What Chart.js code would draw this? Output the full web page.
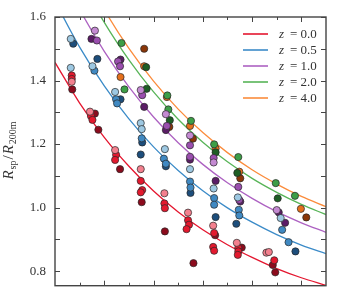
<!DOCTYPE html>
<html>
<head>
<meta charset="utf-8">
<title>Rsp / R200m</title>
<script src="https://cdn.jsdelivr.net/npm/chart.js@4.4.0/dist/chart.umd.min.js"></script>
<style>body { margin: 0; background: #fff; }</style>
</head>
<body>
<canvas id="plotCanvas" width="344" height="296"></canvas>
<script>
// ---- data ----
const redshifts = ['0.0', '0.5', '1.0', '2.0', '4.0']
const gammaGrid = [0, 0.5, 1, 1.5, 2, 2.5, 3, 3.5, 4, 4.5, 5, 5.5]
const fitZ0 = [1.457, 1.329, 1.221, 1.130, 1.052, 0.986, 0.930, 0.883, 0.843, 0.808, 0.779, 0.755]
const fitZ05 = [1.649, 1.505, 1.383, 1.279, 1.191, 1.117, 1.053, 0.999, 0.954, 0.915, 0.882, 0.855]
const fitZ1 = [1.779, 1.624, 1.492, 1.380, 1.285, 1.204, 1.136, 1.078, 1.029, 0.987, 0.952, 0.922]
const fitZ2 = [1.888, 1.723, 1.583, 1.465, 1.364, 1.278, 1.206, 1.144, 1.092, 1.048, 1.010, 0.978]
const fitZ4 = [1.935, 1.766, 1.623, 1.501, 1.398, 1.310, 1.236, 1.173, 1.119, 1.074, 1.035, 1.003]

// simulation points [gamma, Rsp/R200m], one list per redshift and mass bin
const redLight = [[0.34, 1.396], [0.71, 1.302], [1.22, 1.181], [1.74, 1.121], [2.22, 1.045], [2.70, 0.984], [3.21, 0.943], [3.69, 0.889], [4.29, 0.858], [4.34, 0.860]]
const redMid = [[0.34, 1.416], [0.34, 1.405], [0.73, 1.288], [0.76, 1.276], [1.24, 1.166], [1.22, 1.150], [1.74, 1.084], [1.77, 1.055], [1.74, 1.048], [2.22, 1.013], [2.23, 0.998], [2.70, 0.960], [2.72, 0.946], [2.67, 0.932], [3.23, 0.920], [3.21, 0.876], [3.23, 0.864], [3.72, 0.873], [3.72, 0.862], [3.71, 0.851], [4.45, 0.834]]
const redDark = [[0.35, 1.372], [0.81, 1.296], [0.88, 1.245], [1.32, 1.121], [1.76, 1.017], [2.23, 0.925], [2.81, 0.825], [3.25, 0.913], [3.79, 0.874], [4.42, 0.819], [4.47, 0.796]]
const blueLight = [[0.32, 1.531], [0.32, 1.440], [0.76, 1.445], [1.22, 1.364], [1.74, 1.266], [1.76, 1.247], [2.23, 1.184], [2.74, 1.121], [3.22, 1.060], [3.71, 1.032], [4.58, 0.967]]
const blueMid = [[0.80, 1.431], [1.24, 1.341], [1.26, 1.328], [1.76, 1.218], [2.21, 1.154], [2.25, 1.138], [2.74, 1.082], [2.75, 1.063], [3.23, 1.030], [3.23, 1.009], [3.73, 0.993], [3.74, 0.975], [4.61, 0.930], [4.74, 0.891]]
const blueDark = [[0.37, 1.516], [0.86, 1.468], [1.33, 1.341], [1.77, 1.205], [1.74, 1.167], [2.25, 1.130], [2.75, 1.046], [3.26, 0.970], [3.68, 0.949], [4.88, 0.862]]
const purpleLight = [[0.81, 1.557], [1.74, 1.370], [2.25, 1.294], [2.74, 1.227], [3.22, 1.142], [4.50, 0.992]]
const purpleMid = [[0.85, 1.526], [1.28, 1.460], [1.32, 1.445], [1.77, 1.354], [2.27, 1.257], [2.74, 1.196], [2.74, 1.160], [3.22, 1.156], [3.72, 1.065], [3.74, 1.024]]
const purpleDark = [[0.74, 1.531], [1.33, 1.466], [1.81, 1.317], [2.25, 1.244], [2.74, 1.151], [3.26, 1.084], [3.76, 1.019], [4.54, 0.985], [4.67, 0.952]]
const greenMid = [[1.35, 1.518], [1.41, 1.372], [2.28, 1.353], [2.30, 1.309], [2.76, 1.273], [3.23, 1.199], [3.72, 1.159], [4.48, 1.077], [4.87, 1.037]]
const greenDark = [[1.85, 1.442], [1.86, 1.374], [2.33, 1.275], [3.26, 1.174], [3.70, 1.109], [4.52, 1.029]]
const orangeMid = [[1.33, 1.411], [1.81, 1.445], [2.27, 1.348], [2.74, 1.257], [3.26, 1.186], [3.74, 1.113], [4.99, 0.996]]
const orangeDark = [[1.81, 1.500], [2.32, 1.254], [2.80, 1.217], [3.76, 1.092], [5.10, 0.969]]
const xTickValues = [0.5, 1, 1.5, 2, 2.5, 3, 3.5, 4, 4.5, 5]

// ---- styling ----
const lineColors = ['#e4162f', '#3b8bc8', '#ad62c2', '#58b458', '#fb8c3c']
const fits = [fitZ0, fitZ05, fitZ1, fitZ2, fitZ4]
const pointSets = [
    [redLight, '#f3808e'], [redMid, '#e3192e'], [redDark, '#8c0b1d'],
    [blueLight, '#9dc8e2'], [blueMid, '#4089c2'], [blueDark, '#1d4e7c'],
    [purpleLight, '#c48ad2'], [purpleMid, '#9a4eae'], [purpleDark, '#5b1c66'],
    [greenMid, '#3d9e47'], [greenDark, '#1d5e24'],
    [orangeMid, '#e4701c'], [orangeDark, '#8a3608'],
]
const serif = '"Liberation Serif", "DejaVu Serif", serif'
const ink = '#333'

const datasets = []
fits.forEach((fit, i) => {
    datasets.push({
        type: 'line',
        label: 'z = ' + redshifts[i],
        data: gammaGrid.map((g, k) => ({ x: g, y: fit[k] })),
        borderColor: lineColors[i],
        borderWidth: 1.3,
        pointRadius: 0,
        cubicInterpolationMode: 'monotone',
        order: 2,
    })
})
pointSets.forEach(([pts, color]) => {
    datasets.push({
        type: 'scatter',
        data: pts.map(p => ({ x: p[0], y: p[1] })),
        backgroundColor: color,
        borderColor: '#262626',
        borderWidth: 0.7,
        pointRadius: 3.6,
        order: 1,
    })
})

// inward ticks, frame, axis title and legend drawn on top
const decor = {
    id: 'decor',
    afterDraw(chart) {
        const { ctx, chartArea: a, scales } = chart
        ctx.save()
        ctx.strokeStyle = '#444'
        ctx.lineWidth = 1
        ctx.beginPath()
        xTickValues.forEach(v => {
            const px = Math.round(scales.x.getPixelForValue(v)) + 0.5
            const len = Number.isInteger(v) ? 5 : 3
            ctx.moveTo(px, a.bottom); ctx.lineTo(px, a.bottom - len)
            ctx.moveTo(px, a.top); ctx.lineTo(px, a.top + len)
        })
        scales.y.ticks.forEach(t => {
            const py = Math.round(scales.y.getPixelForValue(t.value)) + 0.5
            ctx.moveTo(a.left, py); ctx.lineTo(a.left + 5, py)
            ctx.moveTo(a.right, py); ctx.lineTo(a.right - 5, py)
        })
        ctx.stroke()
        ctx.lineWidth = 1.4
        ctx.strokeRect(a.left, a.top, a.right - a.left, a.bottom - a.top)

        // y title  R_sp / R_200m
        const parts = [
            ['R', 'italic 15px ' + serif, 0],
            ['sp', '10px ' + serif, 3],
            ['/', '15px ' + serif, 0],
            ['R', 'italic 15px ' + serif, 0],
            ['200m', '10px ' + serif, 3],
        ]
        let total = 0
        parts.forEach(p => { ctx.font = p[1]; total += ctx.measureText(p[0]).width + 1 })
        ctx.translate(13, 150)
        ctx.rotate(-Math.PI / 2)
        ctx.fillStyle = ink
        ctx.textBaseline = 'alphabetic'
        let x = -total / 2
        parts.forEach(p => {
            ctx.font = p[1]
            ctx.fillText(p[0], x, p[2])
            x += ctx.measureText(p[0]).width + 1
        })
        ctx.setTransform(1, 0, 0, 1, 0, 0)

        // legend
        let row = 0
        chart.data.datasets.forEach(ds => {
            if (ds.type !== 'line') return
            const y = 34 + row * 16
            ctx.strokeStyle = ds.borderColor
            ctx.lineWidth = 1.6
            ctx.beginPath()
            ctx.moveTo(243, y); ctx.lineTo(268, y)
            ctx.stroke()
            ctx.fillStyle = ink
            ctx.textBaseline = 'middle'
            ctx.font = 'italic 13px ' + serif
            ctx.fillText(ds.label[0], 279, y + 0.5)
            ctx.font = '13px ' + serif
            ctx.fillText(ds.label.slice(1).trim(), 290, y + 0.5)
            row++
        })
        ctx.restore()
    }
}

new Chart(document.getElementById('plotCanvas'), {
    type: 'scatter',
    data: { datasets },
    plugins: [decor],
    options: {
        responsive: false,
        animation: false,
        layout: { padding: { top: 17, right: 18, left: 0, bottom: 8 } },
        plugins: { legend: { display: false }, tooltip: { enabled: false } },
        scales: {
            x: {
                type: 'linear', min: 0, max: 5.5,
                display: false,
            },
            y: {
                min: 0.754, max: 1.6,
                ticks: {
                    stepSize: 0.1,
                    includeBounds: false,
                    padding: 9,
                    color: ink,
                    font: { family: serif, size: 13, lineHeight: 0.2 },
                    callback: v => Math.abs(v * 5 - Math.round(v * 5)) < 1e-6 ? v.toFixed(1) : '',
                },
                grid: { display: false, drawTicks: false },
                border: { display: false },
                afterFit: s => { s.width = 55 },
            },
        },
    },
})
</script>
</body>
</html>
